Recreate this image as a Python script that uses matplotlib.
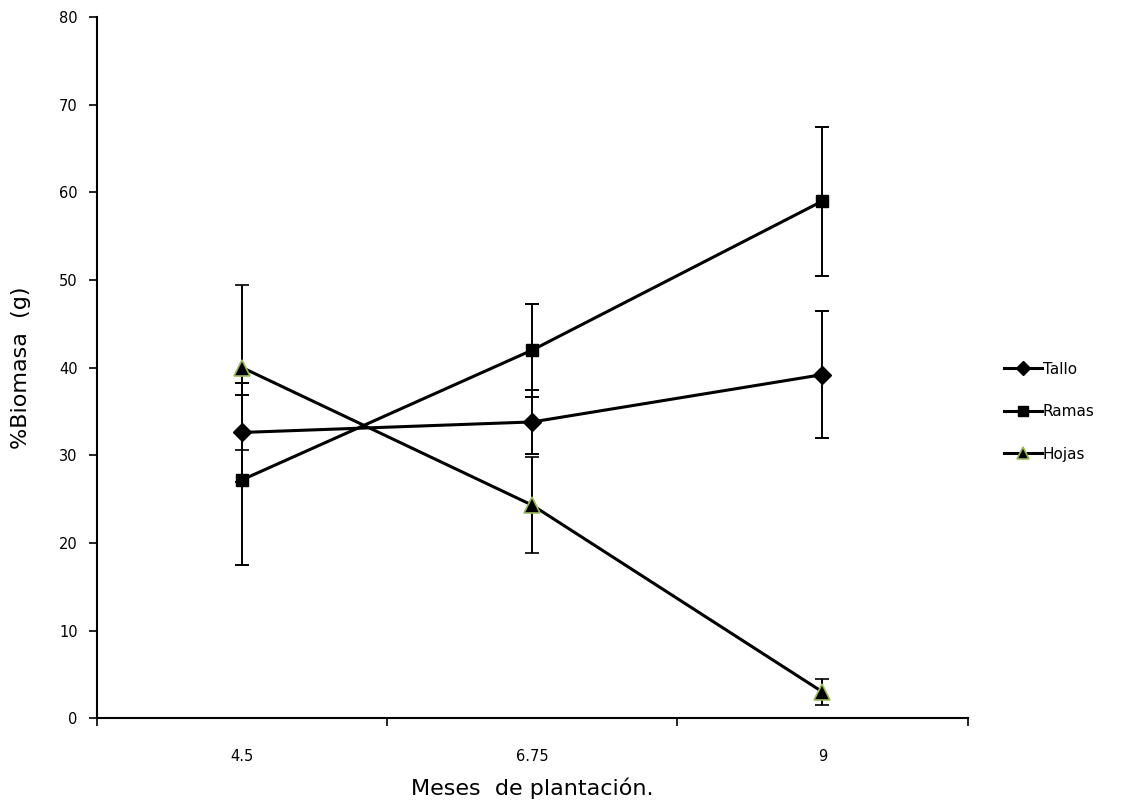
import matplotlib
matplotlib.use("Agg")
import matplotlib.pyplot as plt
from matplotlib.lines import Line2D
import numpy as np

months = ["4.5", "6.75", "9"]
tallo = [32.6, 33.8, 39.2]
tallo_err = [5.6, 3.7, 7.2]
ramas = [27.2, 42.0, 59.0]
ramas_err = [9.7, 5.3, 8.5]
hojas = [40.0, 24.3, 3.0]
hojas_err = [9.4, 5.5, 1.5]

fig = plt.figure(figsize=(11.35, 8.07), dpi=100)
ax = fig.add_axes([0.0855, 0.110, 0.767, 0.869])

x = np.arange(len(months)) + 0.5

series = [
    ("Tallo", tallo, tallo_err, dict(marker="D", markersize=9, markerfacecolor="black", markeredgecolor="black")),
    ("Ramas", ramas, ramas_err, dict(marker="s", markersize=9, markerfacecolor="black", markeredgecolor="black")),
    ("Hojas", hojas, hojas_err, dict(marker="^", markersize=11, markerfacecolor="black", markeredgecolor="#9BBB59", markeredgewidth=1.2)),
]

handles = []
for name, vals, err, style in series:
    ax.errorbar(x, vals, yerr=err, color="black", linewidth=2.2, ecolor="black",
                elinewidth=1.4, capsize=5, capthick=1.4, **style)
    handles.append(Line2D([], [], color="black", linewidth=2.2, label=name, **style))

ax.set_xlim(0, len(months))
ax.set_ylim(0, 80)
ax.set_yticks(range(0, 81, 10))
ax.set_xticks(x)
ax.set_xticklabels(months)
ax.set_xticks(np.arange(len(months) + 1), minor=True)
ax.tick_params(axis="x", which="major", length=0, pad=22, labelsize=10.5)
ax.tick_params(axis="x", which="minor", length=6, width=1.2, direction="out")
ax.tick_params(axis="y", length=6, width=1.2, direction="out", labelsize=10.5, pad=8)

ax.spines["top"].set_visible(False)
ax.spines["right"].set_visible(False)
ax.spines["left"].set_linewidth(1.5)
ax.spines["bottom"].set_linewidth(1.5)

ax.set_xlabel("Meses  de plantación.", fontsize=16, labelpad=10)
ax.set_ylabel("%Biomasa  (g)", fontsize=16, labelpad=20)

ax.legend(handles=handles, loc="center left", bbox_to_anchor=(1.026, 0.437), frameon=False,
          fontsize=11, handlelength=2.5, handletextpad=0.05, labelspacing=1.8, markerscale=0.8)

fig.savefig("out.png", dpi=100)
